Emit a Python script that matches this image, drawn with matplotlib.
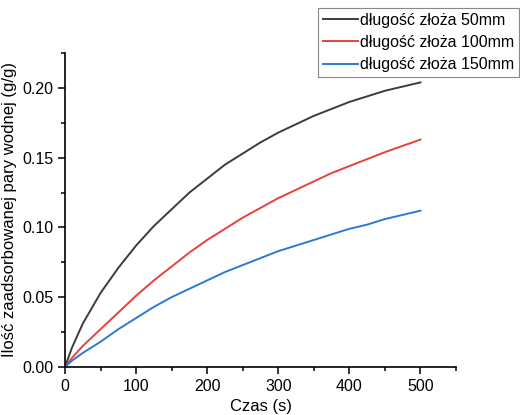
import matplotlib
matplotlib.use('Agg')
import matplotlib.pyplot as plt
from matplotlib.ticker import MultipleLocator, FormatStrFormatter

plt.rcParams['font.family'] = ['Liberation Sans', 'DejaVu Sans']

czas = [0, 10, 25, 50, 75, 100, 125, 150, 175, 200, 225, 250, 275,
        300, 325, 350, 375, 400, 425, 450, 475, 500]
zloze_50 = [0, 0.014, 0.031, 0.053, 0.071, 0.087, 0.101, 0.113, 0.125, 0.135, 0.145,
            0.153, 0.161, 0.168, 0.174, 0.180, 0.185, 0.190, 0.194, 0.198, 0.201, 0.204]
zloze_100 = [0, 0.0065, 0.015, 0.027, 0.039, 0.051, 0.062, 0.072, 0.082, 0.091, 0.099,
             0.107, 0.114, 0.121, 0.127, 0.133, 0.139, 0.144, 0.149, 0.154, 0.1585, 0.163]
zloze_150 = [0, 0.0045, 0.010, 0.018, 0.027, 0.035, 0.043, 0.050, 0.056, 0.062, 0.068,
             0.073, 0.078, 0.083, 0.087, 0.091, 0.095, 0.099, 0.102, 0.106, 0.109, 0.112]
etykiety = ['długość złoża 50mm', 'długość złoża 100mm', 'długość złoża 150mm']
kolory = ['#3c3c3c', '#e8413c', '#2b7bd0']

fig = plt.figure(figsize=(5.2, 4.15), dpi=100)
ax = fig.add_axes([0.125, 0.116, 0.752, 0.756])

for y, lab, c in zip([zloze_50, zloze_100, zloze_150], etykiety, kolory):
    ax.plot(czas, y, color=c, lw=1.4, label=lab)

ax.set_xlim(0, 550)
ax.set_ylim(0, 0.225)
ax.xaxis.set_major_locator(MultipleLocator(100))
ax.xaxis.set_minor_locator(MultipleLocator(50))
ax.yaxis.set_major_locator(MultipleLocator(0.05))
ax.yaxis.set_minor_locator(MultipleLocator(0.025))
ax.yaxis.set_major_formatter(FormatStrFormatter('%.2f'))
ax.tick_params(which='major', direction='out', length=5, width=1.1, labelsize=11.5)
ax.tick_params(which='minor', direction='out', length=3, width=1.1)
for s in ['top', 'right']:
    ax.spines[s].set_visible(False)
for s in ['left', 'bottom']:
    ax.spines[s].set_linewidth(1.2)

ax.set_xlabel('Czas (s)', fontsize=12)
ax.set_ylabel('Ilość zaadsorbowanej pary wodnej (g/g)', fontsize=12)

leg = fig.legend(loc='upper left', bbox_to_anchor=(318 / 520, 1 - 8 / 415),
                 fontsize=11.5, handlelength=2.2, handletextpad=0.15,
                 labelspacing=0.45, borderpad=0.3, fancybox=False,
                 framealpha=1, borderaxespad=0)
leg.get_frame().set_edgecolor('#888888')
leg.get_frame().set_linewidth(0.8)

fig.savefig('out.png', dpi=100)
